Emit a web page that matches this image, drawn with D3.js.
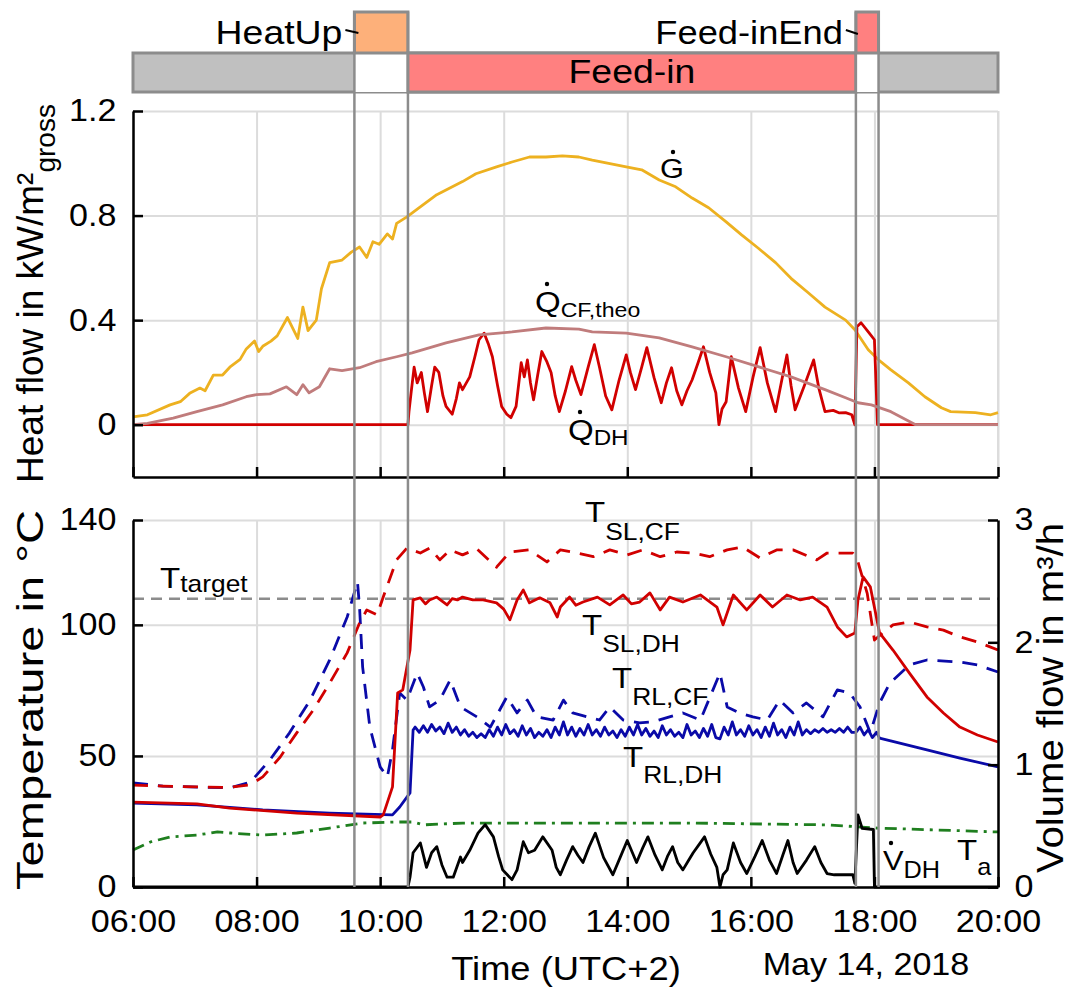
<!DOCTYPE html>
<html>
<head>
<meta charset="utf-8">
<script src="https://cdn.jsdelivr.net/npm/d3@7"></script>
<style>
  body { margin: 0; background: #fff; }
  text { font-family: "Liberation Sans", Arial, sans-serif; fill: #000; }
</style>
</head>
<body>
<svg id="chart" width="1083" height="989"></svg>
<script>
// operating phases of the day
const phaseNames = ["HeatUp", "Feed-in", "Feed-inEnd"];
const phaseStart = ["09:35", "10:27", "17:42"];
const phaseEnd   = ["10:27", "17:42", "18:04"];
const phaseRow   = ["top", "bar", "top"];

const hourLabels = ["06:00", "08:00", "10:00", "12:00", "14:00", "16:00", "18:00", "20:00"];
const heatTicks = [0, 0.4, 0.8, 1.2];
const tempTicks = [0, 50, 100, 140];
const flowTicks = [0, 1, 2, 3];
const tTarget = 110;

// heat flows in kW/m² gross
const G = [["06:00",0.03],["06:14",0.038],["06:36",0.076],["06:46",0.088],["06:55",0.12],["07:05",0.14],["07:10",0.13],["07:18",0.19],["07:27",0.19],["07:34",0.22],["07:44",0.25],["07:50",0.29],["07:58",0.32],["08:02",0.28],["08:06",0.30],["08:14",0.32],["08:20",0.34],["08:30",0.41],["08:40",0.33],["08:45",0.45],["08:50",0.36],["08:58",0.40],["09:03",0.52],["09:11",0.62],["09:23",0.63],["09:32",0.66],["09:40",0.68],["09:47",0.64],["09:53",0.70],["09:59",0.69],["10:07",0.73],["10:12",0.71],["10:16",0.77],["10:26",0.795],["10:38",0.83],["10:55",0.88],["11:20",0.93],["11:33",0.96],["11:53",0.986],["12:08",1.005],["12:25",1.024],["12:41",1.024],["12:57",1.028],["13:13",1.024],["13:26",1.012],["13:59",0.986],["14:14",0.975],["14:31",0.936],["14:47",0.91],["15:03",0.867],["15:19",0.83],["15:36",0.776],["15:51",0.726],["16:07",0.676],["16:24",0.62],["16:39",0.56],["16:56",0.504],["17:12",0.45],["17:32",0.40],["17:41",0.363],["17:54",0.287],["18:04",0.248],["18:16",0.21],["18:33",0.16],["18:49",0.107],["19:05",0.065],["19:14",0.05],["19:38",0.046],["19:53",0.038],["20:00",0.046]];

const QCFtheo = [["06:00",0],["06:14",0.005],["06:39",0.025],["07:02",0.05],["07:27",0.076],["07:50",0.107],["08:00",0.115],["08:13",0.118],["08:29",0.145],["08:39",0.115],["08:45",0.153],["08:51",0.122],["09:01",0.145],["09:11",0.214],["09:23",0.207],["09:40",0.218],["09:56",0.241],["10:16",0.26],["10:31",0.275],["11:04",0.313],["11:36",0.344],["12:08",0.355],["12:41",0.37],["13:13",0.366],["13:26",0.355],["13:59",0.35],["14:31",0.332],["15:03",0.298],["15:36",0.26],["16:07",0.222],["16:39",0.183],["17:12",0.134],["17:32",0.103],["17:44",0.084],["17:57",0.076],["18:16",0.05],["18:40",0],["20:00",0]];

const QDH = [["06:00",0],["10:27",0],["10:28",0.05],["10:30",0.12],["10:33",0.22],["10:36",0.16],["10:40",0.20],["10:43",0.12],["10:46",0.05],["10:50",0.15],["10:53",0.22],["10:57",0.20],["11:01",0.11],["11:04",0.07],["11:10",0.04],["11:14",0.10],["11:17",0.16],["11:20",0.134],["11:27",0.183],["11:32",0.26],["11:36",0.325],["11:41",0.35],["11:45",0.31],["11:49",0.26],["11:54",0.15],["11:58",0.07],["12:03",0.04],["12:07",0.027],["12:12",0.07],["12:17",0.237],["12:20",0.183],["12:23",0.248],["12:26",0.16],["12:29",0.095],["12:33",0.19],["12:37",0.28],["12:42",0.24],["12:46",0.2],["12:50",0.11],["12:54",0.05],["13:00",0.13],["13:06",0.222],["13:10",0.17],["13:15",0.115],["13:22",0.22],["13:28",0.306],["13:33",0.22],["13:39",0.11],["13:45",0.057],["13:52",0.17],["13:59",0.267],["14:03",0.2],["14:08",0.134],["14:14",0.22],["14:19",0.295],["14:26",0.18],["14:33",0.084],["14:38",0.16],["14:43",0.218],["14:48",0.13],["14:53",0.076],["14:58",0.13],["15:03",0.172],["15:09",0.24],["15:14",0.298],["15:20",0.2],["15:26",0.122],["15:29",0.0],["15:32",0.06],["15:36",0.088],["15:41",0.26],["15:48",0.14],["15:55",0.05],["16:02",0.18],["16:09",0.295],["16:16",0.16],["16:24",0.05],["16:30",0.17],["16:35",0.267],["16:39",0.15],["16:43",0.057],["16:52",0.15],["17:01",0.248],["17:06",0.14],["17:12",0.05],["17:20",0.055],["17:26",0.045],["17:32",0.046],["17:38",0.038],["17:41",0],["17:43",0.375],["17:47",0.39],["17:55",0.35],["18:00",0.325],["18:03",0],["20:00",0]];

// temperatures in °C
const TSLCF = [["06:00",38.9],["06:29",38.5],["07:02",38.2],["07:34",38],["07:54",39],["08:06",42],["08:23",49.6],["08:39",58.8],["08:55",67.5],["09:11",77.8],["09:28",89.3],["09:40",100.7],["09:47",105.7],["09:57",103.8],["10:03",110.6],["10:16",124.8],["10:26",129.3],["10:39",127.4],["10:48",129.3],["10:58",124.8],["11:08",128.6],["11:20",126.7],["11:34",129],["11:53",122],["12:06",127.8],["12:25",128.6],["12:42",124],["12:55",128.6],["13:11",127.4],["13:27",126],["13:43",128.6],["14:00",126.7],["14:15",128.6],["14:32",126],["14:48",127.8],["15:04",127.4],["15:20",126],["15:37",128.6],["15:52",129.7],["16:09",125.5],["16:25",128.6],["16:41",128.6],["17:04",124.8],["17:14",127.4],["17:39",127.4],["17:44",124],["17:53",112],["18:00",94.2],["18:08",96.9],["18:18",100],["18:34",101.1],["18:51",99.2],["19:07",98],["19:23",95.4],["19:40",93.5],["20:00",90.4]];

const TSLDH = [["06:00",32.4],["07:02",31.7],["07:34",30.1],["08:39",28.2],["10:00",26.7],["10:03",27.5],["10:12",38.2],["10:17",74],["10:22",75.2],["10:29",90.4],["10:32",109.5],["10:39",110.3],["10:44",108],["10:48",109.5],["10:55",110.6],["11:05",107.6],["11:10",110],["11:15",109.5],["11:20",110.6],["11:30",109.5],["11:40",109.5],["11:53",108.4],["12:00",106],["12:06",101.9],["12:13",109.5],["12:19",113.3],["12:25",108.4],["12:35",110.3],["12:45",108.4],["12:52",103],["12:55",106.8],["13:04",110.6],["13:10",107.5],["13:17",108.7],["13:31",110.6],["13:43",107.6],["13:56",111.4],["14:04",108],["14:12",108.7],["14:22",112.2],["14:32",105.7],["14:41",110.6],["14:54",108.7],["15:11",111.4],["15:27",106.8],["15:33",100],["15:43",111.4],["15:56",105.7],["16:09",111.4],["16:21",106.8],["16:35",111.4],["16:48",109.5],["17:00",110.6],["17:14",106.8],["17:24",99.2],["17:33",95.4],["17:41",96.9],["17:44",109.5],["17:49",118.3],["17:56",114.5],["18:05",96.9],["18:18",90.4],["18:34",81.6],["18:51",72.5],["19:07",66.4],["19:23",61],["19:40",58],["20:00",55.3]];

const TRLCF = [["06:00",39.7],["06:29",38.5],["07:34",37.8],["07:54",40],["08:13",48.5],["08:32",58.8],["08:52",71.3],["09:11",86.6],["09:28",103],["09:38",116.4],["09:40",106.8],["09:43",83.9],["09:50",61],["10:00",45.8],["10:07",42],["10:12",52.3],["10:19",74],["10:26",71.3],["10:36",81.6],["10:42",76.3],["10:48",68.7],["10:58",71.3],["11:08",79],["11:18",68.7],["11:34",64.9],["11:47",61],["12:03",72.5],["12:13",66.4],["12:23",71.3],["12:32",64.9],["12:48",63.7],["12:58",71.3],["13:07",66.4],["13:21",64.9],["13:33",63.7],["13:43",68.7],["13:56",63.7],["14:12",62.6],["14:25",63],["14:41",64.9],["14:54",66.4],["15:11",63.7],["15:30",81.6],["15:37",68.7],["15:49",66.4],["16:02",64.9],["16:16",63.7],["16:28",71.3],["16:41",66.4],["16:54",70.2],["17:10",64.9],["17:24",75.2],["17:36",74],["17:46",68.7],["17:56",58.8],["18:05",70.2],["18:15",77.8],["18:34",84.7],["18:51",86.6],["19:23",85.8],["19:40",84.7],["20:00",82]];

const TRLDH = [["06:00",32],["07:02",31.3],["08:06",29.4],["09:11",28.2],["10:12",27.5],["10:19",30.5],["10:29",35.9],["10:32",59.9],["10:34",61],["10:38",59],["10:42",61.5],["10:46",59],["10:50",62],["10:54",59.5],["10:58",61],["11:02",58.5],["11:06",62.5],["11:10",59],["11:14",61],["11:18",58],["11:22",60],["11:26",57.5],["11:30",59],["11:34",57],["11:38",58.5],["11:42",57],["11:46",60],["11:50",57.5],["11:54",61],["11:58",58],["12:02",62],["12:06",58.5],["12:10",60],["12:14",57.5],["12:18",61.5],["12:22",58],["12:26",60.5],["12:30",57],["12:34",59],["12:38",57.5],["12:42",60],["12:46",57],["12:50",61],["12:54",58],["12:58",63],["13:02",58],["13:06",61],["13:10",57.5],["13:14",60.5],["13:18",58],["13:22",62],["13:26",58],["13:30",60],["13:34",57.5],["13:38",61],["13:42",58],["13:46",59.5],["13:50",57],["13:54",60],["13:58",57.5],["14:02",61],["14:06",58],["14:10",62],["14:14",58],["14:18",60.5],["14:22",57.5],["14:26",59.5],["14:30",57],["14:34",61.5],["14:38",58],["14:42",60],["14:46",57.5],["14:50",59],["14:54",57],["14:58",62],["15:02",58],["15:06",59.5],["15:10",57],["15:14",60.5],["15:18",57.5],["15:22",62],["15:26",57],["15:30",56.5],["15:34",61],["15:38",58],["15:42",63],["15:46",58],["15:50",60],["15:54",57.5],["15:58",61.5],["16:02",58],["16:06",60],["16:10",57],["16:14",61],["16:18",57.5],["16:22",62.5],["16:26",58],["16:30",60],["16:34",57],["16:38",61],["16:42",58],["16:46",63],["16:50",58],["16:54",60],["16:58",58.5],["17:02",60],["17:06",59],["17:10",60.5],["17:14",59],["17:18",60],["17:22",59],["17:26",60.5],["17:30",59],["17:34",61],["17:38",59],["17:42",59],["17:46",61],["17:50",58],["17:54",60],["17:58",57],["18:02",59],["18:05",56.8],["18:51",52.3],["19:23",49.2],["20:00",45.8]];

const Ta = [["06:00",14.1],["06:17",17.2],["06:36",19.1],["07:02",19.8],["07:22",21],["07:34",20.6],["08:06",19.8],["08:39",20.6],["09:11",22.5],["09:43",24.4],["10:16",24.8],["10:32",24.8],["10:42",23.7],["11:20",24.4],["12:25",24.4],["13:11",24.4],["15:04",24.4],["17:14",23.7],["18:02",22.5],["20:00",21]];

// volume flow in m³/h (right axis)
const VDH = [["06:00",0],["10:27",0],["10:29",0.08],["10:32",0.28],["10:39",0.36],["10:45",0.16],["10:50",0.28],["10:55",0.33],["11:00",0.18],["11:05",0.08],["11:11",0.08],["11:18",0.245],["11:20",0.2],["11:27",0.3],["11:35",0.44],["11:42",0.51],["11:50",0.41],["11:55",0.25],["11:59",0.14],["12:08",0.06],["12:13",0.14],["12:19",0.37],["12:24",0.28],["12:30",0.3],["12:38",0.41],["12:47",0.3],["12:51",0.16],["12:55",0.1],["13:01",0.22],["13:07",0.33],["13:12",0.26],["13:17",0.2],["13:23",0.33],["13:29",0.44],["13:37",0.24],["13:46",0.1],["13:53",0.24],["14:00",0.38],["14:05",0.28],["14:09",0.2],["14:15",0.32],["14:20",0.41],["14:27",0.26],["14:34",0.14],["14:39",0.25],["14:44",0.33],["14:49",0.2],["14:54",0.14],["14:59",0.21],["15:04",0.28],["15:10",0.35],["15:15",0.41],["15:21",0.27],["15:27",0.16],["15:30",0],["15:33",0.1],["15:37",0.14],["15:43",0.36],["15:50",0.2],["15:56",0.11],["16:04",0.25],["16:11",0.38],["16:18",0.22],["16:25",0.11],["16:31",0.26],["16:36",0.38],["16:41",0.2],["16:45",0.11],["16:54",0.22],["17:02",0.33],["17:08",0.2],["17:14",0.11],["17:21",0.1],["17:29",0.1],["17:39",0.1],["17:41",0.03],["17:44",0.59],["17:48",0.48],["17:59",0.47],["18:00",0],["20:00",0]];

const parseTime = d3.timeParse("%Y-%m-%d %H:%M");
const at = s => parseTime("2018-05-14 " + s);

const svg = d3.select("#chart");
const stretch = "scale(1.1,1)";

const x = d3.scaleTime().domain([at("06:00"), at("20:00")]).range([133, 998]);
const yQ = d3.scaleLinear().domain([-0.2, 1.2]).range([477, 111]);
const yT = d3.scaleLinear().domain([0, 140]).range([887, 520]);
const yV = d3.scaleLinear().domain([0, 3]).range([887, 520]);
const hours = hourLabels.map(at);

// grids
function grid(y, ticks, top, bottom) {
  svg.append("g").attr("transform", `translate(0,${bottom})`)
    .call(d3.axisBottom(x).tickValues(hours).tickSize(-(bottom - top)).tickFormat(""))
    .call(g => g.select(".domain").remove());
  svg.append("g").attr("transform", "translate(133,0)")
    .call(d3.axisLeft(y).tickValues(ticks).tickSize(-865).tickFormat(""))
    .call(g => g.select(".domain").remove());
}
grid(yQ, heatTicks, 111, 477);
grid(yT, tempTicks, 520, 887);
svg.selectAll(".tick line").attr("stroke", "#dcdcdc").attr("stroke-width", 2);
svg.append("line").attr("x1", 998).attr("x2", 998).attr("y1", 111).attr("y2", 477)
  .attr("stroke", "#dcdcdc").attr("stroke-width", 2);

// target temperature
svg.append("line").attr("x1", x.range()[0]).attr("x2", x.range()[1])
  .attr("y1", yT(tTarget)).attr("y2", yT(tTarget))
  .attr("stroke", "#8c8c8c").attr("stroke-width", 2.5).attr("stroke-dasharray", "11,7");

// lines
const lineQ = d3.line().x(d => x(at(d[0]))).y(d => yQ(d[1]));
const lineT = d3.line().x(d => x(at(d[0]))).y(d => yT(d[1]));
const lineV = d3.line().x(d => x(at(d[0]))).y(d => yV(d[1]));

function draw(data, gen, color, dash) {
  svg.append("path").datum(data).attr("d", gen)
    .attr("fill", "none").attr("stroke", color).attr("stroke-width", 2.8)
    .attr("stroke-linejoin", "round")
    .attr("stroke-dasharray", dash || null);
}
draw(G, lineQ, "#edb120");
draw(QDH, lineQ, "#d10000");
draw(QCFtheo, lineQ, "#c07c7c");

draw(Ta, lineT, "#1f7f1f", "12,6,3,6");
draw(VDH, lineV, "#000");
draw(TRLDH, lineT, "#0a0aa8");
draw(TRLCF, lineT, "#0a0aa8", "15,10");
draw(TSLDH, lineT, "#d10000");
draw(TSLCF, lineT, "#d10000", "15,10");

// axes
function styleAxis(g) {
  g.select(".domain").attr("stroke", "#000").attr("stroke-width", 2.5);
  g.selectAll(".tick line").attr("stroke", "#000").attr("stroke-width", 2.5);
  g.selectAll(".tick text").attr("font-size", 31).attr("fill", "#000").attr("transform", stretch);
}
svg.append("g").attr("transform", "translate(133,0)")
  .call(d3.axisLeft(yQ).tickValues(heatTicks).tickFormat(d => d === 0 ? "0" : d3.format(".1f")(d))
    .tickSizeInner(-10).tickSizeOuter(0).tickPadding(15))
  .call(styleAxis);
svg.append("g").attr("transform", "translate(0,477)")
  .call(d3.axisBottom(x).tickValues(hours).tickFormat("").tickSizeInner(-10).tickSizeOuter(0))
  .call(styleAxis);
svg.append("g").attr("transform", "translate(133,0)")
  .call(d3.axisLeft(yT).tickValues(tempTicks).tickSizeInner(-10).tickSizeOuter(0).tickPadding(15))
  .call(styleAxis);
svg.append("g").attr("transform", "translate(998,0)")
  .call(d3.axisRight(yV).tickValues(flowTicks).tickFormat(d3.format("d"))
    .tickSizeInner(-10).tickSizeOuter(0).tickPadding(15))
  .call(styleAxis);
svg.append("g").attr("transform", "translate(0,887)")
  .call(d3.axisBottom(x).tickValues(hours).tickFormat(d3.timeFormat("%H:%M"))
    .tickSizeInner(-10).tickSizeOuter(0).tickPadding(23))
  .call(styleAxis);

// phase bar
const phaseColor = {"HeatUp": "#fdb07a", "Feed-in": "#ff8080", "Feed-inEnd": "#ff8080"};
const barTop = 53, barBottom = 92, boxTop = 12;
svg.append("rect").attr("x", x.range()[0]).attr("y", barTop)
  .attr("width", x.range()[1] - x.range()[0]).attr("height", barBottom - barTop)
  .attr("fill", "#c0c0c0").attr("stroke", "#8c8c8c").attr("stroke-width", 3);
phaseNames.forEach((name, i) => {
  const x0 = x(at(phaseStart[i])), x1 = x(at(phaseEnd[i]));
  if (phaseRow[i] === "bar") {
    svg.append("rect").attr("x", x0).attr("y", barTop).attr("width", x1 - x0).attr("height", barBottom - barTop)
      .attr("fill", phaseColor[name]).attr("stroke", "#8c8c8c").attr("stroke-width", 3);
  } else {
    svg.append("rect").attr("x", x0).attr("y", barTop).attr("width", x1 - x0).attr("height", barBottom - barTop)
      .attr("fill", "#fff").attr("stroke", "none");
    svg.append("rect").attr("x", x0).attr("y", boxTop).attr("width", x1 - x0).attr("height", barTop - boxTop)
      .attr("fill", phaseColor[name]).attr("stroke", "#8c8c8c").attr("stroke-width", 3);
    [x0, x1].forEach(xx => svg.append("line").attr("x1", xx).attr("x2", xx).attr("y1", boxTop).attr("y2", 887)
      .attr("stroke", "#8c8c8c").attr("stroke-width", 2.5));
  }
});

function label(xp, yp, txt, size, anchor) {
  svg.append("g").attr("transform", `translate(${xp},${yp}) ${stretch}`)
    .append("text").attr("font-size", size).attr("text-anchor", anchor || "start").text(txt);
}
const hx0 = x(at(phaseStart[0])), fx0 = x(at(phaseStart[2]));
label(hx0 - 12, 44, "HeatUp", 34, "end");
label(fx0 - 13, 44, "Feed-inEnd", 33, "end");
label((x(at(phaseStart[1])) + x(at(phaseEnd[1]))) / 2, 83, "Feed-in", 34, "middle");
svg.append("line").attr("x1", hx0 - 9).attr("y1", 30).attr("x2", hx0 + 4).attr("y2", 33).attr("stroke", "#000").attr("stroke-width", 2);
svg.append("line").attr("x1", fx0 - 10).attr("y1", 30).attr("x2", fx0 + 2).attr("y2", 34).attr("stroke", "#000").attr("stroke-width", 2);

// series annotations
function annot(xp, yp, main, sub, subDy, mainSize, subSize) {
  const t = svg.append("g").attr("transform", `translate(${xp},${yp}) ${stretch}`)
    .append("text").attr("font-size", mainSize).text(main);
  if (sub) t.append("tspan").attr("font-size", subSize).attr("dy", subDy).text(sub);
}
function dot(cx, cy) {
  svg.append("circle").attr("cx", cx).attr("cy", cy).attr("r", 2.2).attr("fill", "#000");
}
annot(660, 178, "G", null, 0, 28);
dot(673, 152);
annot(535, 312, "Q", "CF,theo", 5, 30, 21);
dot(547, 284);
annot(568, 440, "Q", "DH", 5, 30, 22);
dot(580, 412);
annot(585, 522, "T", "SL,CF", 18, 30, 24);
annot(582, 635, "T", "SL,DH", 17, 30, 24);
annot(612, 688, "T", "RL,CF", 17, 30, 24);
annot(623, 767, "T", "RL,DH", 16, 30, 24);
annot(160, 588, "T", "target", 4, 30, 24);
annot(883, 870, "V", "DH", 8, 28, 23);
dot(891, 843);
annot(957, 860, "T", "a", 15, 30, 23);

// axis titles
svg.append("text").attr("transform", "translate(43,483) rotate(-90)")
  .attr("font-size", 37)
  .call(t => {
    t.append("tspan").text("Heat flow in kW/m²");
    t.append("tspan").attr("font-size", 28).attr("dy", 12).text("gross");
  });
svg.append("text").attr("transform", "translate(43,700) rotate(-90)").attr("text-anchor", "middle")
  .attr("font-size", 37).attr("textLength", 380).attr("lengthAdjust", "spacingAndGlyphs")
  .text("Temperature in °C");
svg.append("text").attr("transform", "translate(1063,698) rotate(-90)").attr("text-anchor", "middle")
  .attr("font-size", 37).attr("textLength", 350).attr("lengthAdjust", "spacingAndGlyphs")
  .text("Volume flow in m³/h");
label(566, 980, "Time (UTC+2)", 33, "middle");
label(866, 975, "May 14, 2018", 31, "middle");
</script>
</body>
</html>
